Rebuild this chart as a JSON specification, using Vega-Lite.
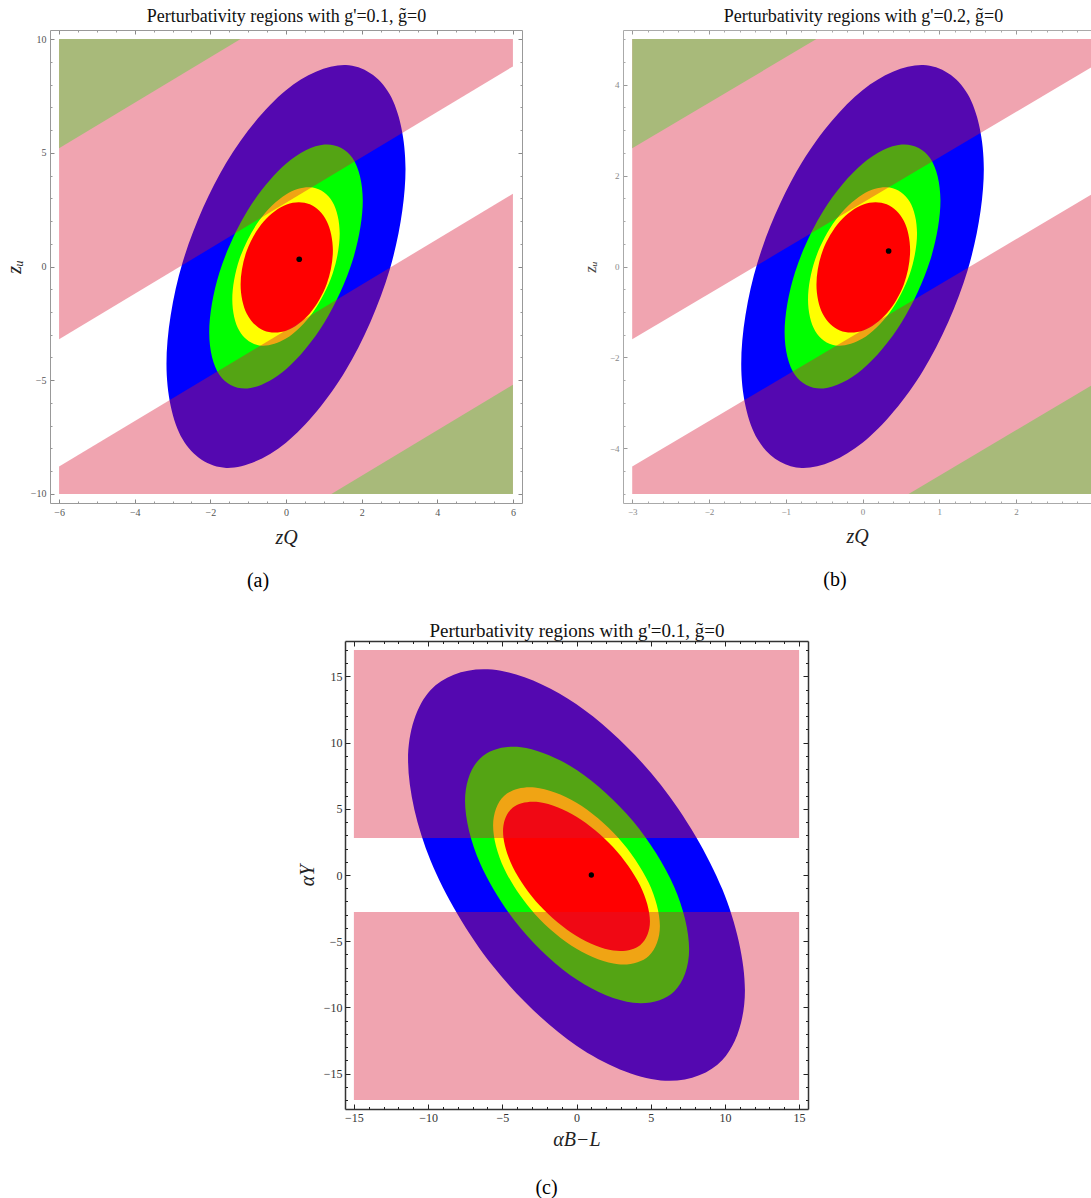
{
"$schema":"https://vega.github.io/schema/vega-lite/v6.json",
"background":"white",
"padding":{"left":4,"top":7,"right":0,"bottom":2},
"config":{"view":{"stroke":null},"font":"Liberation Serif"},
"datasets":{
"ellA":[
{"s":"E1","i":0,"x":3.16,"y":4.29},{"s":"E1","i":1,"x":2.737,"y":7.59},{"s":"E1","i":2,"x":1.58,"y":8.857},{"s":"E1","i":3,"x":0,"y":7.75},{"s":"E1","i":4,"x":-1.58,"y":4.567},{"s":"E1","i":5,"x":-2.737,"y":0.16},{"s":"E1","i":6,"x":-3.16,"y":-4.29},{"s":"E1","i":7,"x":-2.737,"y":-7.59},{"s":"E1","i":8,"x":-1.58,"y":-8.857},{"s":"E1","i":9,"x":0,"y":-7.75},{"s":"E1","i":10,"x":1.58,"y":-4.567},{"s":"E1","i":11,"x":2.737,"y":-0.16},
{"s":"E2","i":0,"x":2.03,"y":2.9},{"s":"E2","i":1,"x":1.758,"y":4.771},{"s":"E2","i":2,"x":1.015,"y":5.364},{"s":"E2","i":3,"x":0,"y":4.52},{"s":"E2","i":4,"x":-1.015,"y":2.464},{"s":"E2","i":5,"x":-1.758,"y":-0.251},{"s":"E2","i":6,"x":-2.03,"y":-2.9},{"s":"E2","i":7,"x":-1.758,"y":-4.771},{"s":"E2","i":8,"x":-1.015,"y":-5.364},{"s":"E2","i":9,"x":0,"y":-4.52},{"s":"E2","i":10,"x":1.015,"y":-2.464},{"s":"E2","i":11,"x":1.758,"y":0.251},
{"s":"E3","i":0,"x":1.42,"y":1.45},{"s":"E3","i":1,"x":1.23,"y":2.841},{"s":"E3","i":2,"x":0.71,"y":3.47},{"s":"E3","i":3,"x":0,"y":3.17},{"s":"E3","i":4,"x":-0.71,"y":2.02},{"s":"E3","i":5,"x":-1.23,"y":0.329},{"s":"E3","i":6,"x":-1.42,"y":-1.45},{"s":"E3","i":7,"x":-1.23,"y":-2.841},{"s":"E3","i":8,"x":-0.71,"y":-3.47},{"s":"E3","i":9,"x":0,"y":-3.17},{"s":"E3","i":10,"x":0.71,"y":-2.02},{"s":"E3","i":11,"x":1.23,"y":-0.329},
{"s":"E4","i":0,"x":1.24,"y":0.71},{"s":"E4","i":1,"x":1.077,"y":1.995},{"s":"E4","i":2,"x":0.63,"y":2.734},{"s":"E4","i":3,"x":0.02,"y":2.73},{"s":"E4","i":4,"x":-0.59,"y":1.984},{"s":"E4","i":5,"x":-1.037,"y":0.695},{"s":"E4","i":6,"x":-1.2,"y":-0.79},{"s":"E4","i":7,"x":-1.037,"y":-2.075},{"s":"E4","i":8,"x":-0.59,"y":-2.814},{"s":"E4","i":9,"x":0.02,"y":-2.81},{"s":"E4","i":10,"x":0.63,"y":-2.064},{"s":"E4","i":11,"x":1.077,"y":-0.775}
],
"ellB":[
{"s":"E1","i":0,"x":1.58,"y":2.145},{"s":"E1","i":1,"x":1.369,"y":3.795},{"s":"E1","i":2,"x":0.79,"y":4.429},{"s":"E1","i":3,"x":0,"y":3.875},{"s":"E1","i":4,"x":-0.79,"y":2.284},{"s":"E1","i":5,"x":-1.369,"y":0.08},{"s":"E1","i":6,"x":-1.58,"y":-2.145},{"s":"E1","i":7,"x":-1.369,"y":-3.795},{"s":"E1","i":8,"x":-0.79,"y":-4.429},{"s":"E1","i":9,"x":0,"y":-3.875},{"s":"E1","i":10,"x":0.79,"y":-2.284},{"s":"E1","i":11,"x":1.369,"y":-0.08},
{"s":"E2","i":0,"x":1.015,"y":1.45},{"s":"E2","i":1,"x":0.879,"y":2.386},{"s":"E2","i":2,"x":0.508,"y":2.682},{"s":"E2","i":3,"x":0,"y":2.26},{"s":"E2","i":4,"x":-0.508,"y":1.232},{"s":"E2","i":5,"x":-0.879,"y":-0.126},{"s":"E2","i":6,"x":-1.015,"y":-1.45},{"s":"E2","i":7,"x":-0.879,"y":-2.386},{"s":"E2","i":8,"x":-0.508,"y":-2.682},{"s":"E2","i":9,"x":0,"y":-2.26},{"s":"E2","i":10,"x":0.508,"y":-1.232},{"s":"E2","i":11,"x":0.879,"y":0.126},
{"s":"E3","i":0,"x":0.71,"y":0.725},{"s":"E3","i":1,"x":0.615,"y":1.421},{"s":"E3","i":2,"x":0.355,"y":1.735},{"s":"E3","i":3,"x":0,"y":1.585},{"s":"E3","i":4,"x":-0.355,"y":1.01},{"s":"E3","i":5,"x":-0.615,"y":0.165},{"s":"E3","i":6,"x":-0.71,"y":-0.725},{"s":"E3","i":7,"x":-0.615,"y":-1.421},{"s":"E3","i":8,"x":-0.355,"y":-1.735},{"s":"E3","i":9,"x":0,"y":-1.585},{"s":"E3","i":10,"x":0.355,"y":-1.01},{"s":"E3","i":11,"x":0.615,"y":-0.165},
{"s":"E4","i":0,"x":0.62,"y":0.355},{"s":"E4","i":1,"x":0.539,"y":0.998},{"s":"E4","i":2,"x":0.315,"y":1.367},{"s":"E4","i":3,"x":0.01,"y":1.365},{"s":"E4","i":4,"x":-0.295,"y":0.992},{"s":"E4","i":5,"x":-0.519,"y":0.348},{"s":"E4","i":6,"x":-0.6,"y":-0.395},{"s":"E4","i":7,"x":-0.519,"y":-1.038},{"s":"E4","i":8,"x":-0.295,"y":-1.407},{"s":"E4","i":9,"x":0.01,"y":-1.405},{"s":"E4","i":10,"x":0.315,"y":-1.032},{"s":"E4","i":11,"x":0.539,"y":-0.388}
],
"ellC":[
{"s":"E1","i":0,"x":11.35,"y":-8.7},{"s":"E1","i":1,"x":9.829,"y":-1.084},{"s":"E1","i":2,"x":5.675,"y":6.821},{"s":"E1","i":3,"x":0,"y":12.9},{"s":"E1","i":4,"x":-5.675,"y":15.521},{"s":"E1","i":5,"x":-9.829,"y":13.984},{"s":"E1","i":6,"x":-11.35,"y":8.7},{"s":"E1","i":7,"x":-9.829,"y":1.084},{"s":"E1","i":8,"x":-5.675,"y":-6.821},{"s":"E1","i":9,"x":0,"y":-12.9},{"s":"E1","i":10,"x":5.675,"y":-15.521},{"s":"E1","i":11,"x":9.829,"y":-13.984},
{"s":"E2","i":0,"x":7.59,"y":-5.6},{"s":"E2","i":1,"x":6.578,"y":-0.89},{"s":"E2","i":2,"x":3.815,"y":4.059},{"s":"E2","i":3,"x":0.04,"y":7.92},{"s":"E2","i":4,"x":-3.735,"y":9.659},{"s":"E2","i":5,"x":-6.498,"y":8.81},{"s":"E2","i":6,"x":-7.51,"y":5.6},{"s":"E2","i":7,"x":-6.498,"y":0.89},{"s":"E2","i":8,"x":-3.735,"y":-4.059},{"s":"E2","i":9,"x":0.04,"y":-7.92},{"s":"E2","i":10,"x":3.815,"y":-9.659},{"s":"E2","i":11,"x":6.578,"y":-8.81},
{"s":"E3","i":0,"x":5.62,"y":-3.86},{"s":"E3","i":1,"x":4.867,"y":-0.591},{"s":"E3","i":2,"x":2.81,"y":2.82},{"s":"E3","i":3,"x":0,"y":5.46},{"s":"E3","i":4,"x":-2.81,"y":6.62},{"s":"E3","i":5,"x":-4.867,"y":5.991},{"s":"E3","i":6,"x":-5.62,"y":3.74},{"s":"E3","i":7,"x":-4.867,"y":0.471},{"s":"E3","i":8,"x":-2.81,"y":-2.94},{"s":"E3","i":9,"x":0,"y":-5.58},{"s":"E3","i":10,"x":2.81,"y":-6.74},{"s":"E3","i":11,"x":4.867,"y":-6.111},
{"s":"E4","i":0,"x":4.95,"y":-3.5},{"s":"E4","i":1,"x":4.287,"y":-0.789},{"s":"E4","i":2,"x":2.475,"y":2.106},{"s":"E4","i":3,"x":0,"y":4.41},{"s":"E4","i":4,"x":-2.475,"y":5.506},{"s":"E4","i":5,"x":-4.287,"y":5.099},{"s":"E4","i":6,"x":-4.95,"y":3.3},{"s":"E4","i":7,"x":-4.287,"y":0.589},{"s":"E4","i":8,"x":-2.475,"y":-2.306},{"s":"E4","i":9,"x":0,"y":-4.61},{"s":"E4","i":10,"x":2.475,"y":-5.706},{"s":"E4","i":11,"x":4.287,"y":-5.299}
],
"bandA":[
{"r":"pU","x":-6,"lo":-3.2,"hi":10},{"r":"pU","x":6,"lo":8.8,"hi":10},
{"r":"pL","x":-6,"lo":-10,"hi":-8.8},{"r":"pL","x":6,"lo":-10,"hi":3.2},
{"r":"oU","x":-6,"lo":5.2,"hi":10},{"r":"oU","x":-1.2,"lo":10,"hi":10},
{"r":"oL","x":1.2,"lo":-10,"hi":-10},{"r":"oL","x":6,"lo":-10,"hi":-5.2}
],
"bandB":[
{"r":"pU","x":-3,"lo":-1.6,"hi":5},{"r":"pU","x":3,"lo":4.4,"hi":5},
{"r":"pL","x":-3,"lo":-5,"hi":-4.4},{"r":"pL","x":3,"lo":-5,"hi":1.6},
{"r":"oU","x":-3,"lo":2.6,"hi":5},{"r":"oU","x":-0.6,"lo":5,"hi":5},
{"r":"oL","x":0.6,"lo":-5,"hi":-5},{"r":"oL","x":3,"lo":-5,"hi":-2.6}
],
"bandC":[
{"r":"pU","x":-15,"lo":2.8,"hi":17},{"r":"pU","x":15,"lo":2.8,"hi":17},
{"r":"pL","x":-15,"lo":-17,"hi":-2.8},{"r":"pL","x":15,"lo":-17,"hi":-2.8}
],
"dotA":[{"x":0.35,"y":0.32}],
"dotB":[{"x":0.34,"y":0.34}],
"dotC":[{"x":1.0,"y":0.0}]
},
"bounds":"full",
"spacing":30,
"vconcat":[
{"hconcat":[
{
"width":472,"height":473,
"title":{"text":"(a)","orient":"bottom","font":"Liberation Serif","fontSize":20,"fontWeight":"normal","color":"#000","offset":24,"dx":-28},
"resolve":{"axis":{"x":"independent","y":"independent"}},
"layer":[
{"data":{"name":"ellA"},"transform":[{"filter":"datum.s==='E1'"}],
"mark":{"type":"line","interpolate":"cardinal-closed","fill":"#0000ff","strokeWidth":0,"clip":true},
"encoding":{
"x":{"field":"x","type":"quantitative","scale":{"domain":[-6.24,6.24],"nice":false,"zero":false},
"axis":{"orient":"bottom","values":[-6,-4,-2,0,2,4,6],"title":"zQ","titleFont":"Liberation Serif","titleFontStyle":"italic","titleFontWeight":"normal","titleFontSize":20,"titleColor":"#222","titlePadding":10,"labelFont":"Liberation Serif","labelFontSize":10,"labelColor":"#555","labelPadding":8,"tickSize":-4,"tickColor":"#888","domainColor":"#999","grid":false}},
"y":{"field":"y","type":"quantitative","scale":{"domain":[-10.4,10.4],"nice":false,"zero":false},
"axis":{"orient":"left","values":[-10,-5,0,5,10],"title":"zᵤ","titleFont":"Liberation Serif","titleFontStyle":"italic","titleFontWeight":"normal","titleFontSize":20,"titleColor":"#222","titlePadding":6,"labelFont":"Liberation Serif","labelFontSize":10,"labelColor":"#555","labelPadding":8,"tickSize":-4,"tickColor":"#888","domainColor":"#999","grid":false}},
"order":{"field":"i"}}},
{"data":{"name":"ellA"},"transform":[{"filter":"datum.s==='E2'"}],
"mark":{"type":"line","interpolate":"cardinal-closed","fill":"#00ff00","strokeWidth":0,"clip":true},
"encoding":{
"x":{"field":"x","type":"quantitative","scale":{"domain":[-6.24,6.24],"nice":false,"zero":false},
"axis":{"orient":"top","values":[-6,-4,-2,0,2,4,6],"labels":false,"title":"Perturbativity regions with  g'=0.1,  g\u0303=0","titleFont":"Liberation Serif","titleFontWeight":"normal","titleFontSize":18,"titleColor":"#111","titlePadding":4,"tickSize":-4,"tickColor":"#888","domainColor":"#999","grid":false}},
"y":{"field":"y","type":"quantitative","scale":{"domain":[-10.4,10.4],"nice":false,"zero":false},
"axis":{"orient":"right","values":[-10,-5,0,5,10],"labels":false,"title":null,"tickSize":-4,"tickColor":"#888","domainColor":"#999","grid":false}},
"order":{"field":"i"}}},
{"data":{"name":"ellA"},"transform":[{"filter":"datum.s==='E3'"}],
"mark":{"type":"line","interpolate":"cardinal-closed","fill":"#ffff00","strokeWidth":0,"clip":true},
"encoding":{
"x":{"field":"x","type":"quantitative","scale":{"domain":[-6.24,6.24],"nice":false,"zero":false},
"axis":{"orient":"bottom","values":[-5.5,-5,-4.5,-3.5,-3,-2.5,-1.5,-1,-0.5,0.5,1,1.5,2.5,3,3.5,4.5,5,5.5],"labels":false,"domain":false,"title":null,"tickSize":-2,"tickColor":"#999","grid":false}},
"y":{"field":"y","type":"quantitative","scale":{"domain":[-10.4,10.4],"nice":false,"zero":false},
"axis":{"orient":"left","values":[-9,-8,-7,-6,-4,-3,-2,-1,1,2,3,4,6,7,8,9],"labels":false,"domain":false,"title":null,"tickSize":-2,"tickColor":"#999","grid":false}},
"order":{"field":"i"}}},
{"data":{"name":"ellA"},"transform":[{"filter":"datum.s==='E4'"}],
"mark":{"type":"line","interpolate":"cardinal-closed","fill":"#ff0000","strokeWidth":0,"clip":true},
"encoding":{
"x":{"field":"x","type":"quantitative","scale":{"domain":[-6.24,6.24],"nice":false,"zero":false},
"axis":{"orient":"top","values":[-5.5,-5,-4.5,-3.5,-3,-2.5,-1.5,-1,-0.5,0.5,1,1.5,2.5,3,3.5,4.5,5,5.5],"labels":false,"domain":false,"title":null,"tickSize":-2,"tickColor":"#999","grid":false}},
"y":{"field":"y","type":"quantitative","scale":{"domain":[-10.4,10.4],"nice":false,"zero":false},
"axis":{"orient":"right","values":[-9,-8,-7,-6,-4,-3,-2,-1,1,2,3,4,6,7,8,9],"labels":false,"domain":false,"title":null,"tickSize":-2,"tickColor":"#999","grid":false}},
"order":{"field":"i"}}},
{"data":{"name":"bandA"},"transform":[{"filter":"datum.r==='pU' || datum.r==='pL'"}],
"mark":{"type":"area","fill":"#d81534","fillOpacity":0.388,"clip":true},
"encoding":{"x":{"field":"x","type":"quantitative","axis":null,"scale":{"domain":[-6.24,6.24],"nice":false,"zero":false}},"y":{"field":"lo","type":"quantitative","axis":null,"scale":{"domain":[-10.4,10.4],"nice":false,"zero":false}},"y2":{"field":"hi"},"detail":{"field":"r"}}},
{"data":{"name":"bandA"},"transform":[{"filter":"datum.r==='oU' || datum.r==='oL'"}],
"mark":{"type":"area","fill":"#a8ba7a","clip":true},
"encoding":{"x":{"field":"x","type":"quantitative","axis":null,"scale":{"domain":[-6.24,6.24],"nice":false,"zero":false}},"y":{"field":"lo","type":"quantitative","axis":null,"scale":{"domain":[-10.4,10.4],"nice":false,"zero":false}},"y2":{"field":"hi"},"detail":{"field":"r"}}},
{"data":{"name":"dotA"},
"mark":{"type":"point","filled":true,"color":"#000","size":32,"opacity":1},
"encoding":{"x":{"field":"x","type":"quantitative","axis":null,"scale":{"domain":[-6.24,6.24],"nice":false,"zero":false}},"y":{"field":"y","type":"quantitative","axis":null,"scale":{"domain":[-10.4,10.4],"nice":false,"zero":false}}}}
]
},
{
"width":468,"height":473,
"title":{"text":"(b)","orient":"bottom","font":"Liberation Serif","fontSize":20,"fontWeight":"normal","color":"#000","offset":24,"dx":-22},
"resolve":{"axis":{"x":"independent","y":"independent"}},
"layer":[
{"data":{"name":"ellB"},"transform":[{"filter":"datum.s==='E1'"}],
"mark":{"type":"line","interpolate":"cardinal-closed","fill":"#0000ff","strokeWidth":0,"clip":true},
"encoding":{
"x":{"field":"x","type":"quantitative","scale":{"domain":[-3.12,2.976],"nice":false,"zero":false},
"axis":{"orient":"bottom","values":[-3,-2,-1,0,1,2],"title":"zQ","titleFont":"Liberation Serif","titleFontStyle":"italic","titleFontWeight":"normal","titleFontSize":20,"titleColor":"#222","titlePadding":10,"labelFont":"Liberation Serif","labelFontSize":9,"labelColor":"#888","labelPadding":8,"tickSize":-4,"tickColor":"#999","domainColor":"#aaa","grid":false}},
"y":{"field":"y","type":"quantitative","scale":{"domain":[-5.2,5.2],"nice":false,"zero":false},
"axis":{"orient":"left","values":[-4,-2,0,2,4],"title":"zᵤ","titleFont":"Liberation Serif","titleFontStyle":"italic","titleFontWeight":"normal","titleFontSize":17,"titleColor":"#444","titlePadding":10,"labelFont":"Liberation Serif","labelFontSize":9,"labelColor":"#888","labelPadding":8,"tickSize":-4,"tickColor":"#999","domainColor":"#aaa","grid":false}},
"order":{"field":"i"}}},
{"data":{"name":"ellB"},"transform":[{"filter":"datum.s==='E2'"}],
"mark":{"type":"line","interpolate":"cardinal-closed","fill":"#00ff00","strokeWidth":0,"clip":true},
"encoding":{
"x":{"field":"x","type":"quantitative","scale":{"domain":[-3.12,2.976],"nice":false,"zero":false},
"axis":{"orient":"top","values":[-3,-2,-1,0,1,2],"labels":false,"title":"Perturbativity regions with  g'=0.2,  g\u0303=0","titleFont":"Liberation Serif","titleFontWeight":"normal","titleFontSize":18,"titleColor":"#111","titlePadding":4,"titleX":240,"tickSize":-4,"tickColor":"#999","domainColor":"#aaa","grid":false}},
"y":{"field":"y","type":"quantitative","scale":{"domain":[-5.2,5.2],"nice":false,"zero":false},"axis":null},
"order":{"field":"i"}}},
{"data":{"name":"ellB"},"transform":[{"filter":"datum.s==='E3'"}],
"mark":{"type":"line","interpolate":"cardinal-closed","fill":"#ffff00","strokeWidth":0,"clip":true},
"encoding":{
"x":{"field":"x","type":"quantitative","scale":{"domain":[-3.12,2.976],"nice":false,"zero":false},
"axis":{"orient":"bottom","values":[-2.8,-2.6,-2.4,-2.2,-1.8,-1.6,-1.4,-1.2,-0.8,-0.6,-0.4,-0.2,0.2,0.4,0.6,0.8,1.2,1.4,1.6,1.8,2.2,2.4,2.6,2.8],"labels":false,"domain":false,"title":null,"tickSize":-2,"tickColor":"#aaa","grid":false}},
"y":{"field":"y","type":"quantitative","scale":{"domain":[-5.2,5.2],"nice":false,"zero":false},
"axis":{"orient":"left","values":[-5,-4.5,-3.5,-3,-2.5,-1.5,-1,-0.5,0.5,1,1.5,2.5,3,3.5,4.5,5],"labels":false,"domain":false,"title":null,"tickSize":-2,"tickColor":"#aaa","grid":false}},
"order":{"field":"i"}}},
{"data":{"name":"ellB"},"transform":[{"filter":"datum.s==='E4'"}],
"mark":{"type":"line","interpolate":"cardinal-closed","fill":"#ff0000","strokeWidth":0,"clip":true},
"encoding":{
"x":{"field":"x","type":"quantitative","scale":{"domain":[-3.12,2.976],"nice":false,"zero":false},
"axis":{"orient":"top","values":[-2.8,-2.6,-2.4,-2.2,-1.8,-1.6,-1.4,-1.2,-0.8,-0.6,-0.4,-0.2,0.2,0.4,0.6,0.8,1.2,1.4,1.6,1.8,2.2,2.4,2.6,2.8],"labels":false,"domain":false,"title":null,"tickSize":-2,"tickColor":"#aaa","grid":false}},
"y":{"field":"y","type":"quantitative","scale":{"domain":[-5.2,5.2],"nice":false,"zero":false},"axis":null},
"order":{"field":"i"}}},
{"data":{"name":"bandB"},"transform":[{"filter":"datum.r==='pU' || datum.r==='pL'"}],
"mark":{"type":"area","fill":"#d81534","fillOpacity":0.388,"clip":true},
"encoding":{"x":{"field":"x","type":"quantitative","axis":null,"scale":{"domain":[-3.12,2.976],"nice":false,"zero":false}},"y":{"field":"lo","type":"quantitative","axis":null,"scale":{"domain":[-5.2,5.2],"nice":false,"zero":false}},"y2":{"field":"hi"},"detail":{"field":"r"}}},
{"data":{"name":"bandB"},"transform":[{"filter":"datum.r==='oU' || datum.r==='oL'"}],
"mark":{"type":"area","fill":"#a8ba7a","clip":true},
"encoding":{"x":{"field":"x","type":"quantitative","axis":null,"scale":{"domain":[-3.12,2.976],"nice":false,"zero":false}},"y":{"field":"lo","type":"quantitative","axis":null,"scale":{"domain":[-5.2,5.2],"nice":false,"zero":false}},"y2":{"field":"hi"},"detail":{"field":"r"}}},
{"data":{"name":"dotB"},
"mark":{"type":"point","filled":true,"color":"#000","size":32,"opacity":1},
"encoding":{"x":{"field":"x","type":"quantitative","axis":null,"scale":{"domain":[-3.12,2.976],"nice":false,"zero":false}},"y":{"field":"y","type":"quantitative","axis":null,"scale":{"domain":[-5.2,5.2],"nice":false,"zero":false}}}}
]
}
],"spacing":101,"bounds":"flush"},
{"hconcat":[
{"width":285,"height":468,"data":{"values":[]},"mark":{"type":"point","opacity":0},"encoding":{}},
{
"width":463,"height":468,
"title":{"text":"(c)","orient":"bottom","font":"Liberation Serif","fontSize":20,"fontWeight":"normal","color":"#000","offset":29,"dx":-30},
"resolve":{"axis":{"x":"independent","y":"independent"}},
"layer":[
{"data":{"name":"ellC"},"transform":[{"filter":"datum.s==='E1'"}],
"mark":{"type":"line","interpolate":"cardinal-closed","fill":"#0000ff","strokeWidth":0,"clip":true},
"encoding":{
"x":{"field":"x","type":"quantitative","scale":{"domain":[-15.6,15.6],"nice":false,"zero":false},
"axis":{"orient":"bottom","values":[-15,-10,-5,0,5,10,15],"title":"αB−L","titleFont":"Liberation Serif","titleFontStyle":"italic","titleFontWeight":"normal","titleFontSize":20,"titleColor":"#222","titlePadding":6,"labelFont":"Liberation Serif","labelFontSize":12,"labelColor":"#333","labelPadding":8,"tickSize":-5,"tickColor":"#222","domainColor":"#333","domainWidth":1.5,"grid":false}},
"y":{"field":"y","type":"quantitative","scale":{"domain":[-17.68,17.68],"nice":false,"zero":false},
"axis":{"orient":"left","values":[-15,-10,-5,0,5,10,15],"title":"αY","titleFont":"Liberation Serif","titleFontStyle":"italic","titleFontWeight":"normal","titleFontSize":20,"titleColor":"#222","titlePadding":6,"labelFont":"Liberation Serif","labelFontSize":12,"labelColor":"#333","labelPadding":8,"tickSize":-5,"tickColor":"#222","domainColor":"#333","domainWidth":1.5,"grid":false}},
"order":{"field":"i"}}},
{"data":{"name":"ellC"},"transform":[{"filter":"datum.s==='E2'"}],
"mark":{"type":"line","interpolate":"cardinal-closed","fill":"#00ff00","strokeWidth":0,"clip":true},
"encoding":{
"x":{"field":"x","type":"quantitative","scale":{"domain":[-15.6,15.6],"nice":false,"zero":false},
"axis":{"orient":"top","values":[-15,-10,-5,0,5,10,15],"labels":false,"title":"Perturbativity regions with g'=0.1, g\u0303=0","titleFont":"Liberation Serif","titleFontWeight":"normal","titleFontSize":19,"titleColor":"#111","titlePadding":0,"tickSize":-5,"tickColor":"#222","domainColor":"#333","domainWidth":1.5,"grid":false}},
"y":{"field":"y","type":"quantitative","scale":{"domain":[-17.68,17.68],"nice":false,"zero":false},
"axis":{"orient":"right","values":[-15,-10,-5,0,5,10,15],"labels":false,"title":null,"tickSize":-5,"tickColor":"#222","domainColor":"#333","domainWidth":1.5,"grid":false}},
"order":{"field":"i"}}},
{"data":{"name":"ellC"},"transform":[{"filter":"datum.s==='E3'"}],
"mark":{"type":"line","interpolate":"cardinal-closed","fill":"#ffff00","strokeWidth":0,"clip":true},
"encoding":{
"x":{"field":"x","type":"quantitative","scale":{"domain":[-15.6,15.6],"nice":false,"zero":false},
"axis":{"orient":"bottom","values":[-14,-13,-12,-11,-9,-8,-7,-6,-4,-3,-2,-1,1,2,3,4,6,7,8,9,11,12,13,14],"labels":false,"domain":false,"title":null,"tickSize":-2.5,"tickColor":"#222","grid":false}},
"y":{"field":"y","type":"quantitative","scale":{"domain":[-17.68,17.68],"nice":false,"zero":false},
"axis":{"orient":"left","values":[-17,-16,-14,-13,-12,-11,-9,-8,-7,-6,-4,-3,-2,-1,1,2,3,4,6,7,8,9,11,12,13,14,16,17],"labels":false,"domain":false,"title":null,"tickSize":-2.5,"tickColor":"#222","grid":false}},
"order":{"field":"i"}}},
{"data":{"name":"ellC"},"transform":[{"filter":"datum.s==='E4'"}],
"mark":{"type":"line","interpolate":"cardinal-closed","fill":"#ff0000","strokeWidth":0,"clip":true},
"encoding":{
"x":{"field":"x","type":"quantitative","scale":{"domain":[-15.6,15.6],"nice":false,"zero":false},
"axis":{"orient":"top","values":[-14,-13,-12,-11,-9,-8,-7,-6,-4,-3,-2,-1,1,2,3,4,6,7,8,9,11,12,13,14],"labels":false,"domain":false,"title":null,"tickSize":-2.5,"tickColor":"#222","grid":false}},
"y":{"field":"y","type":"quantitative","scale":{"domain":[-17.68,17.68],"nice":false,"zero":false},
"axis":{"orient":"right","values":[-17,-16,-14,-13,-12,-11,-9,-8,-7,-6,-4,-3,-2,-1,1,2,3,4,6,7,8,9,11,12,13,14,16,17],"labels":false,"domain":false,"title":null,"tickSize":-2.5,"tickColor":"#222","grid":false}},
"order":{"field":"i"}}},
{"data":{"name":"bandC"},
"mark":{"type":"area","fill":"#d81534","fillOpacity":0.388,"clip":true},
"encoding":{"x":{"field":"x","type":"quantitative","axis":null,"scale":{"domain":[-15.6,15.6],"nice":false,"zero":false}},"y":{"field":"lo","type":"quantitative","axis":null,"scale":{"domain":[-17.68,17.68],"nice":false,"zero":false}},"y2":{"field":"hi"},"detail":{"field":"r"}}},
{"data":{"name":"dotC"},
"mark":{"type":"point","filled":true,"color":"#000","size":28,"opacity":1},
"encoding":{"x":{"field":"x","type":"quantitative","axis":null,"scale":{"domain":[-15.6,15.6],"nice":false,"zero":false}},"y":{"field":"y","type":"quantitative","axis":null,"scale":{"domain":[-17.68,17.68],"nice":false,"zero":false}}}}
]
}
],"spacing":10,"bounds":"flush"}
]
}
